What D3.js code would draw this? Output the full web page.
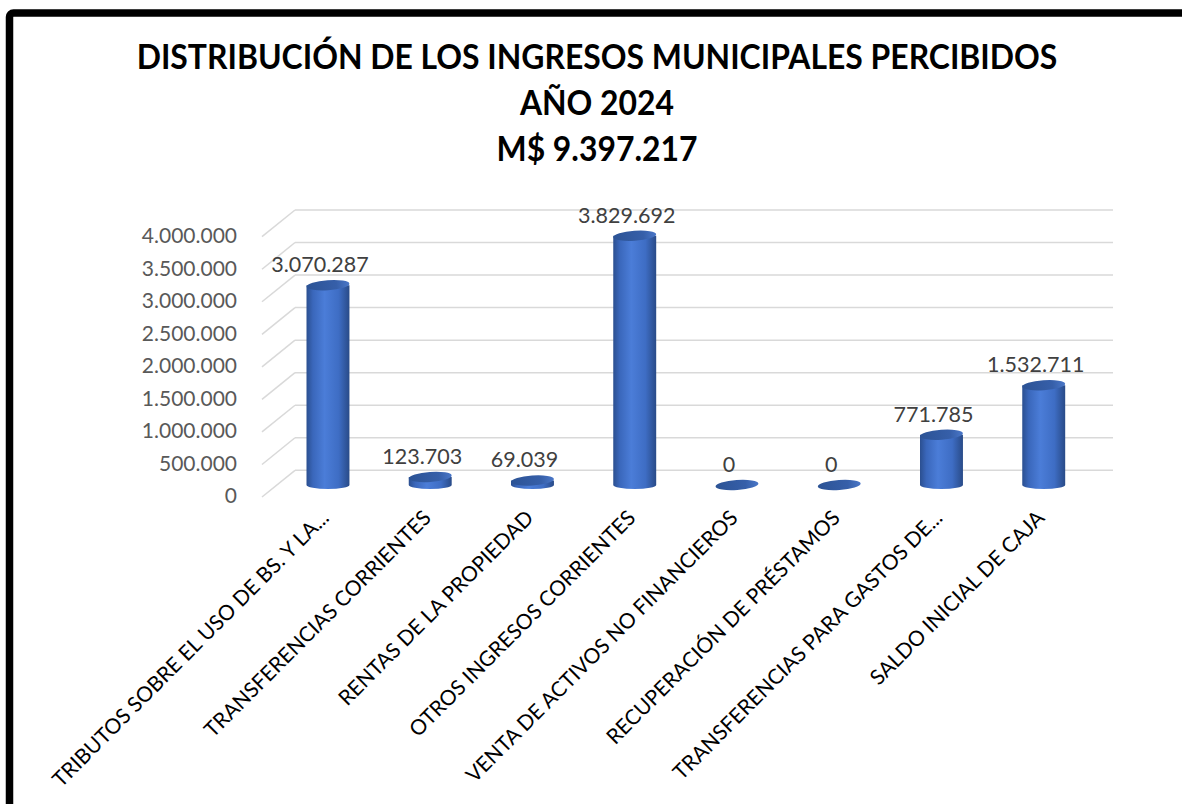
<!DOCTYPE html>
<html lang="es">
<head>
  <meta charset="UTF-8" />
  <title>Distribución de los ingresos municipales percibidos 2024</title>
  <script src="https://d3js.org/d3.v7.min.js"></script>
  <style>
    html, body {
      margin: 0;
      background: #ffffff;
    }

    svg {
      display: block;
      font-family: Lato, "Open Sans", sans-serif;
    }

    .grid line {
      stroke: #d9d9d9;
      stroke-width: 1.5;
    }

    .tick-label {
      fill: #595959;
      font-size: 21px;
    }

    .data-label {
      fill: #404040;
      font-size: 21.5px;
    }

    .cat-label {
      fill: #000000;
      font-size: 21px;
    }

    .title {
      font-weight: 700;
      font-size: 34px;
      fill: #000000;
    }
  </style>
</head>

<body>
  <svg id="chart" width="1182" height="804"></svg>
  <script>
    // data
    const categories = [
      "TRIBUTOS SOBRE EL USO DE BS. Y LA...",
      "TRANSFERENCIAS CORRIENTES",
      "RENTAS DE LA PROPIEDAD",
      "OTROS INGRESOS CORRIENTES",
      "VENTA DE ACTIVOS NO FINANCIEROS",
      "RECUPERACIÓN DE PRÉSTAMOS",
      "TRANSFERENCIAS PARA GASTOS DE...",
      "SALDO INICIAL DE CAJA"
    ];
    const values = [3070287, 123703, 69039, 3829692, 0, 0, 771785, 1532711];
    const yTicks = [0, 500000, 1000000, 1500000, 2000000, 2500000, 3000000, 3500000, 4000000];
    const titleLines = [
      "DISTRIBUCIÓN DE LOS INGRESOS MUNICIPALES PERCIBIDOS",
      "AÑO 2024",
      "M$ 9.397.217"
    ];

    const svg = d3.select("#chart");

    // number format with dots as thousands separator
    const locale = d3.formatLocale({ decimal: ",", thousands: ".", grouping: [3], currency: ["$", ""] });
    const fmt = locale.format(",d");

    // back wall of the 3d plot, the floor goes toward the viewer by (dx, dy)
    const x = d3.scaleBand().domain(categories).range([295, 1113]);
    const y = d3.scaleLinear().domain([0, 4000000]).range([470.3, 210]);
    const depth = { dx: -33, dy: 26.7 };
    const barPos = 0.55; // bars sit a bit past the middle of the floor
    const barW = x.bandwidth() * 0.42;
    const rx = barW / 2;

    const cx = c => x(c) + x.bandwidth() / 2 + depth.dx * barPos;
    const cy = v => y(v) + depth.dy * barPos;

    // outer frame
    svg.append("rect")
      .attr("x", 9.5)
      .attr("y", 13)
      .attr("width", 1200)
      .attr("height", 820)
      .attr("rx", 4)
      .attr("fill", "none")
      .attr("stroke", "#000")
      .attr("stroke-width", 7.5);

    // title (squeezed a bit, the original font is narrower)
    const titleX = 597;
    const titleG = svg.append("g");
    titleG.selectAll("text")
      .data(titleLines)
      .enter().append("text")
      .attr("class", "title")
      .attr("x", titleX)
      .attr("y", (d, i) => 69 + i * 46)
      .attr("text-anchor", "middle")
      .text(d => d);
    const w0 = titleG.select("text").node().getComputedTextLength();
    const sx = 921 / w0;
    titleG.attr("transform", `translate(${titleX},0) scale(${sx},1) translate(${-titleX},0)`);

    // gradients for the cylinders
    const defs = svg.append("defs");
    const bodyGrad = defs.append("linearGradient").attr("id", "cylBody").attr("x1", 0).attr("x2", 1);
    [[0, "#2b4f90"], [0.15, "#3a67bb"], [0.42, "#4b7dd8"], [0.75, "#3e6dc4"], [1, "#294b88"]]
      .forEach(s => bodyGrad.append("stop").attr("offset", s[0]).attr("stop-color", s[1]));
    const topGrad = defs.append("linearGradient").attr("id", "cylTop").attr("x1", 0).attr("x2", 1);
    [[0, "#2c5395"], [0.7, "#365fa9"], [1, "#4a77c8"]]
      .forEach(s => topGrad.append("stop").attr("offset", s[0]).attr("stop-color", s[1]));

    // gridlines: side wall diagonal + back wall horizontal
    const grid = svg.append("g").attr("class", "grid");
    grid.selectAll(".side")
      .data(yTicks)
      .enter().append("line")
      .attr("x1", x.range()[0] + depth.dx)
      .attr("y1", d => y(d) + depth.dy)
      .attr("x2", x.range()[0])
      .attr("y2", d => y(d));
    grid.selectAll(".back")
      .data(yTicks)
      .enter().append("line")
      .attr("x1", x.range()[0])
      .attr("y1", d => y(d))
      .attr("x2", x.range()[1])
      .attr("y2", d => y(d));

    // y axis labels
    svg.append("g")
      .selectAll("text")
      .data(yTicks)
      .enter().append("text")
      .attr("class", "tick-label")
      .attr("x", 237)
      .attr("y", d => y(d) + depth.dy - 1)
      .attr("dy", "0.35em")
      .attr("text-anchor", "end")
      .text(d => fmt(d));

    // cylinders
    const data = categories.map((c, i) => ({ cat: c, value: values[i] }));
    const bars = svg.append("g")
      .selectAll("g")
      .data(data)
      .enter().append("g");

    bars.filter(d => d.value > 0).append("path")
      .attr("fill", "url(#cylBody)")
      .attr("d", d => {
        const l = cx(d.cat) - rx, r = cx(d.cat) + rx;
        const t = cy(d.value), b = cy(0);
        return `M${l},${t} L${l},${b} A${rx},4 0 0 0 ${r},${b} L${r},${t} Z`;
      });

    bars.append("ellipse")
      .attr("cx", d => cx(d.cat))
      .attr("cy", d => cy(d.value))
      .attr("rx", rx)
      .attr("ry", 5)
      .attr("transform", d => `rotate(-4, ${cx(d.cat)}, ${cy(d.value)})`)
      .attr("fill", "url(#cylTop)");

    // value labels
    bars.append("text")
      .attr("class", "data-label")
      .attr("x", d => cx(d.cat) - 8)
      .attr("y", d => cy(d.value) - 13)
      .attr("text-anchor", "middle")
      .text(d => fmt(d.value));

    // category labels, rotated
    svg.append("g")
      .selectAll("text")
      .data(categories)
      .enter().append("text")
      .attr("class", "cat-label")
      .attr("transform", d => `translate(${cx(d) - 3}, 514) rotate(-45)`)
      .attr("dy", "0.35em")
      .attr("text-anchor", "end")
      .text(d => d);
  </script>
</body>

</html>
